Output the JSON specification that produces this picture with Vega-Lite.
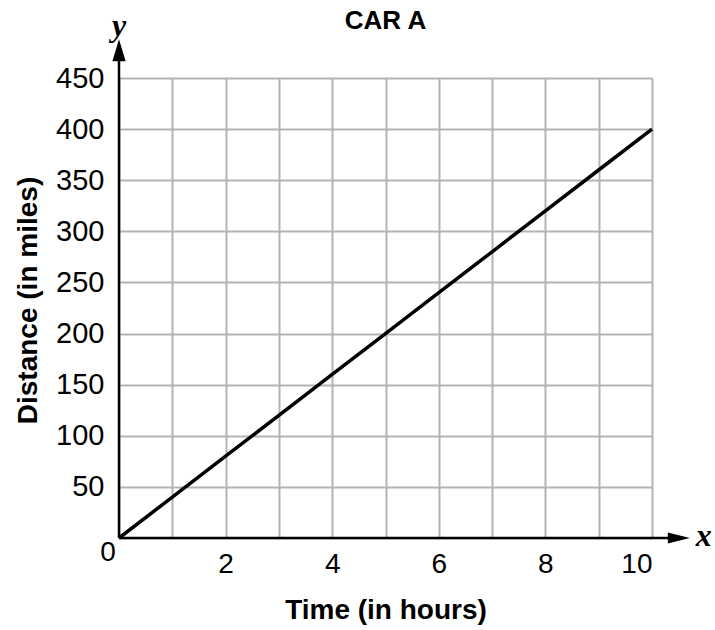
{
  "$schema": "https://vega.github.io/schema/vega-lite/v6.json",
  "width": 533,
  "height": 460,
  "autosize": {"type": "none"},
  "padding": {"left": 119, "top": 78, "right": 63, "bottom": 92},
  "background": "white",
  "config": {"view": {"stroke": null}, "font": "Liberation Sans"},
  "datasets": {
    "car": [
      {"hours": 0, "miles": 0},
      {"hours": 1, "miles": 40},
      {"hours": 2, "miles": 80},
      {"hours": 3, "miles": 120},
      {"hours": 4, "miles": 160},
      {"hours": 5, "miles": 200},
      {"hours": 6, "miles": 240},
      {"hours": 7, "miles": 280},
      {"hours": 8, "miles": 320},
      {"hours": 9, "miles": 360},
      {"hours": 10, "miles": 400}
    ],
    "one": [{"label": "CAR A"}]
  },
  "layer": [
    {
      "data": {"name": "car"},
      "mark": {"type": "line", "color": "black", "strokeWidth": 3.5, "clip": false},
      "encoding": {
        "x": {"field": "hours", "type": "quantitative",
          "scale": {"domain": [0, 10], "nice": false, "zero": true},
          "axis": {"values": [0,1,2,3,4,5,6,7,8,9,10], "labelExpr": "datum.value % 2 == 0 && datum.value > 0 ? datum.label : ''",
            "domain": false, "ticks": false, "grid": true, "gridColor": "#b3b3b3", "gridWidth": 2, "gridOpacity": 1,
            "labelFontSize": 28, "labelColor": "black", "labelPadding": 12, "labelFont": "Liberation Sans", "labelFontWeight": "normal",
            "title": "Time (in hours)", "titleFontSize": 28, "titleFontWeight": "bold", "titleColor": "black", "titleFont": "Liberation Sans",
            "titleBaseline": "top", "titleY": 58, "titleAnchor": "middle"}},
        "y": {"field": "miles", "type": "quantitative",
          "scale": {"domain": [0, 450], "nice": false, "zero": true},
          "axis": {"values": [0,50,100,150,200,250,300,350,400,450], "labelExpr": "datum.value > 0 ? datum.label : ''",
            "domain": false, "ticks": false, "grid": true, "gridColor": "#b3b3b3", "gridWidth": 2, "gridOpacity": 1,
            "labelFontSize": 29, "labelColor": "black", "labelPadding": 15, "labelFont": "Liberation Sans", "labelFontWeight": "normal",
            "title": "Distance (in miles)", "titleFontSize": 28, "titleFontWeight": "bold", "titleColor": "black", "titleFont": "Liberation Sans",
            "titleAngle": -90, "titleBaseline": "middle", "titleAlign": "center", "titleX": -91, "titleY": 222}}
      }
    },
    {
      "data": {"name": "one"},
      "mark": {"type": "rule", "color": "black", "strokeWidth": 2.5},
      "encoding": {"x": {"datum": 0, "type": "quantitative"}, "x2": {"datum": 10.6}, "y": {"datum": 0, "type": "quantitative"}}
    },
    {
      "data": {"name": "one"},
      "mark": {"type": "rule", "color": "black", "strokeWidth": 2.5},
      "encoding": {"x": {"datum": 0, "type": "quantitative"}, "y": {"datum": 0, "type": "quantitative"}, "y2": {"datum": 480}}
    },
    {
      "data": {"name": "one"},
      "mark": {"type": "point", "shape": "M0,0L-2,-0.5L-2,0.5Z", "filled": true, "color": "black", "opacity": 1, "size": 484, "strokeWidth": 0},
      "encoding": {"x": {"datum": 10.71, "type": "quantitative"}, "y": {"datum": 0, "type": "quantitative"}}
    },
    {
      "data": {"name": "one"},
      "mark": {"type": "point", "shape": "M0,0L-0.6,2L0.6,2Z", "filled": true, "color": "black", "opacity": 1, "size": 484, "strokeWidth": 0},
      "encoding": {"x": {"datum": 0, "type": "quantitative"}, "y": {"datum": 488, "type": "quantitative"}}
    },
    {
      "data": {"name": "one"},
      "mark": {"type": "text", "text": "x", "font": "Liberation Serif", "fontStyle": "italic", "fontWeight": "bold", "fontSize": 32, "align": "center", "baseline": "middle", "color": "black", "dy": -2},
      "encoding": {"x": {"datum": 10.97, "type": "quantitative"}, "y": {"datum": 0, "type": "quantitative"}}
    },
    {
      "data": {"name": "one"},
      "mark": {"type": "text", "text": "y", "font": "Liberation Serif", "fontStyle": "italic", "fontWeight": "bold", "fontSize": 32, "align": "center", "baseline": "middle", "color": "black"},
      "encoding": {"x": {"datum": 0, "type": "quantitative"}, "y": {"datum": 501, "type": "quantitative"}}
    },
    {
      "data": {"name": "one"},
      "mark": {"type": "text", "text": "0", "font": "Liberation Sans", "fontWeight": "normal", "fontSize": 28, "align": "center", "baseline": "middle", "color": "black", "dx": -11, "dy": 15},
      "encoding": {"x": {"datum": 0, "type": "quantitative"}, "y": {"datum": 0, "type": "quantitative"}}
    },
    {
      "data": {"name": "one"},
      "mark": {"type": "text", "font": "Liberation Sans", "fontWeight": "bold", "fontSize": 26, "align": "center", "baseline": "middle", "color": "black"},
      "encoding": {"text": {"field": "label"}, "x": {"datum": 5, "type": "quantitative"}, "y": {"datum": 505.5, "type": "quantitative"}}
    }
  ]
}
